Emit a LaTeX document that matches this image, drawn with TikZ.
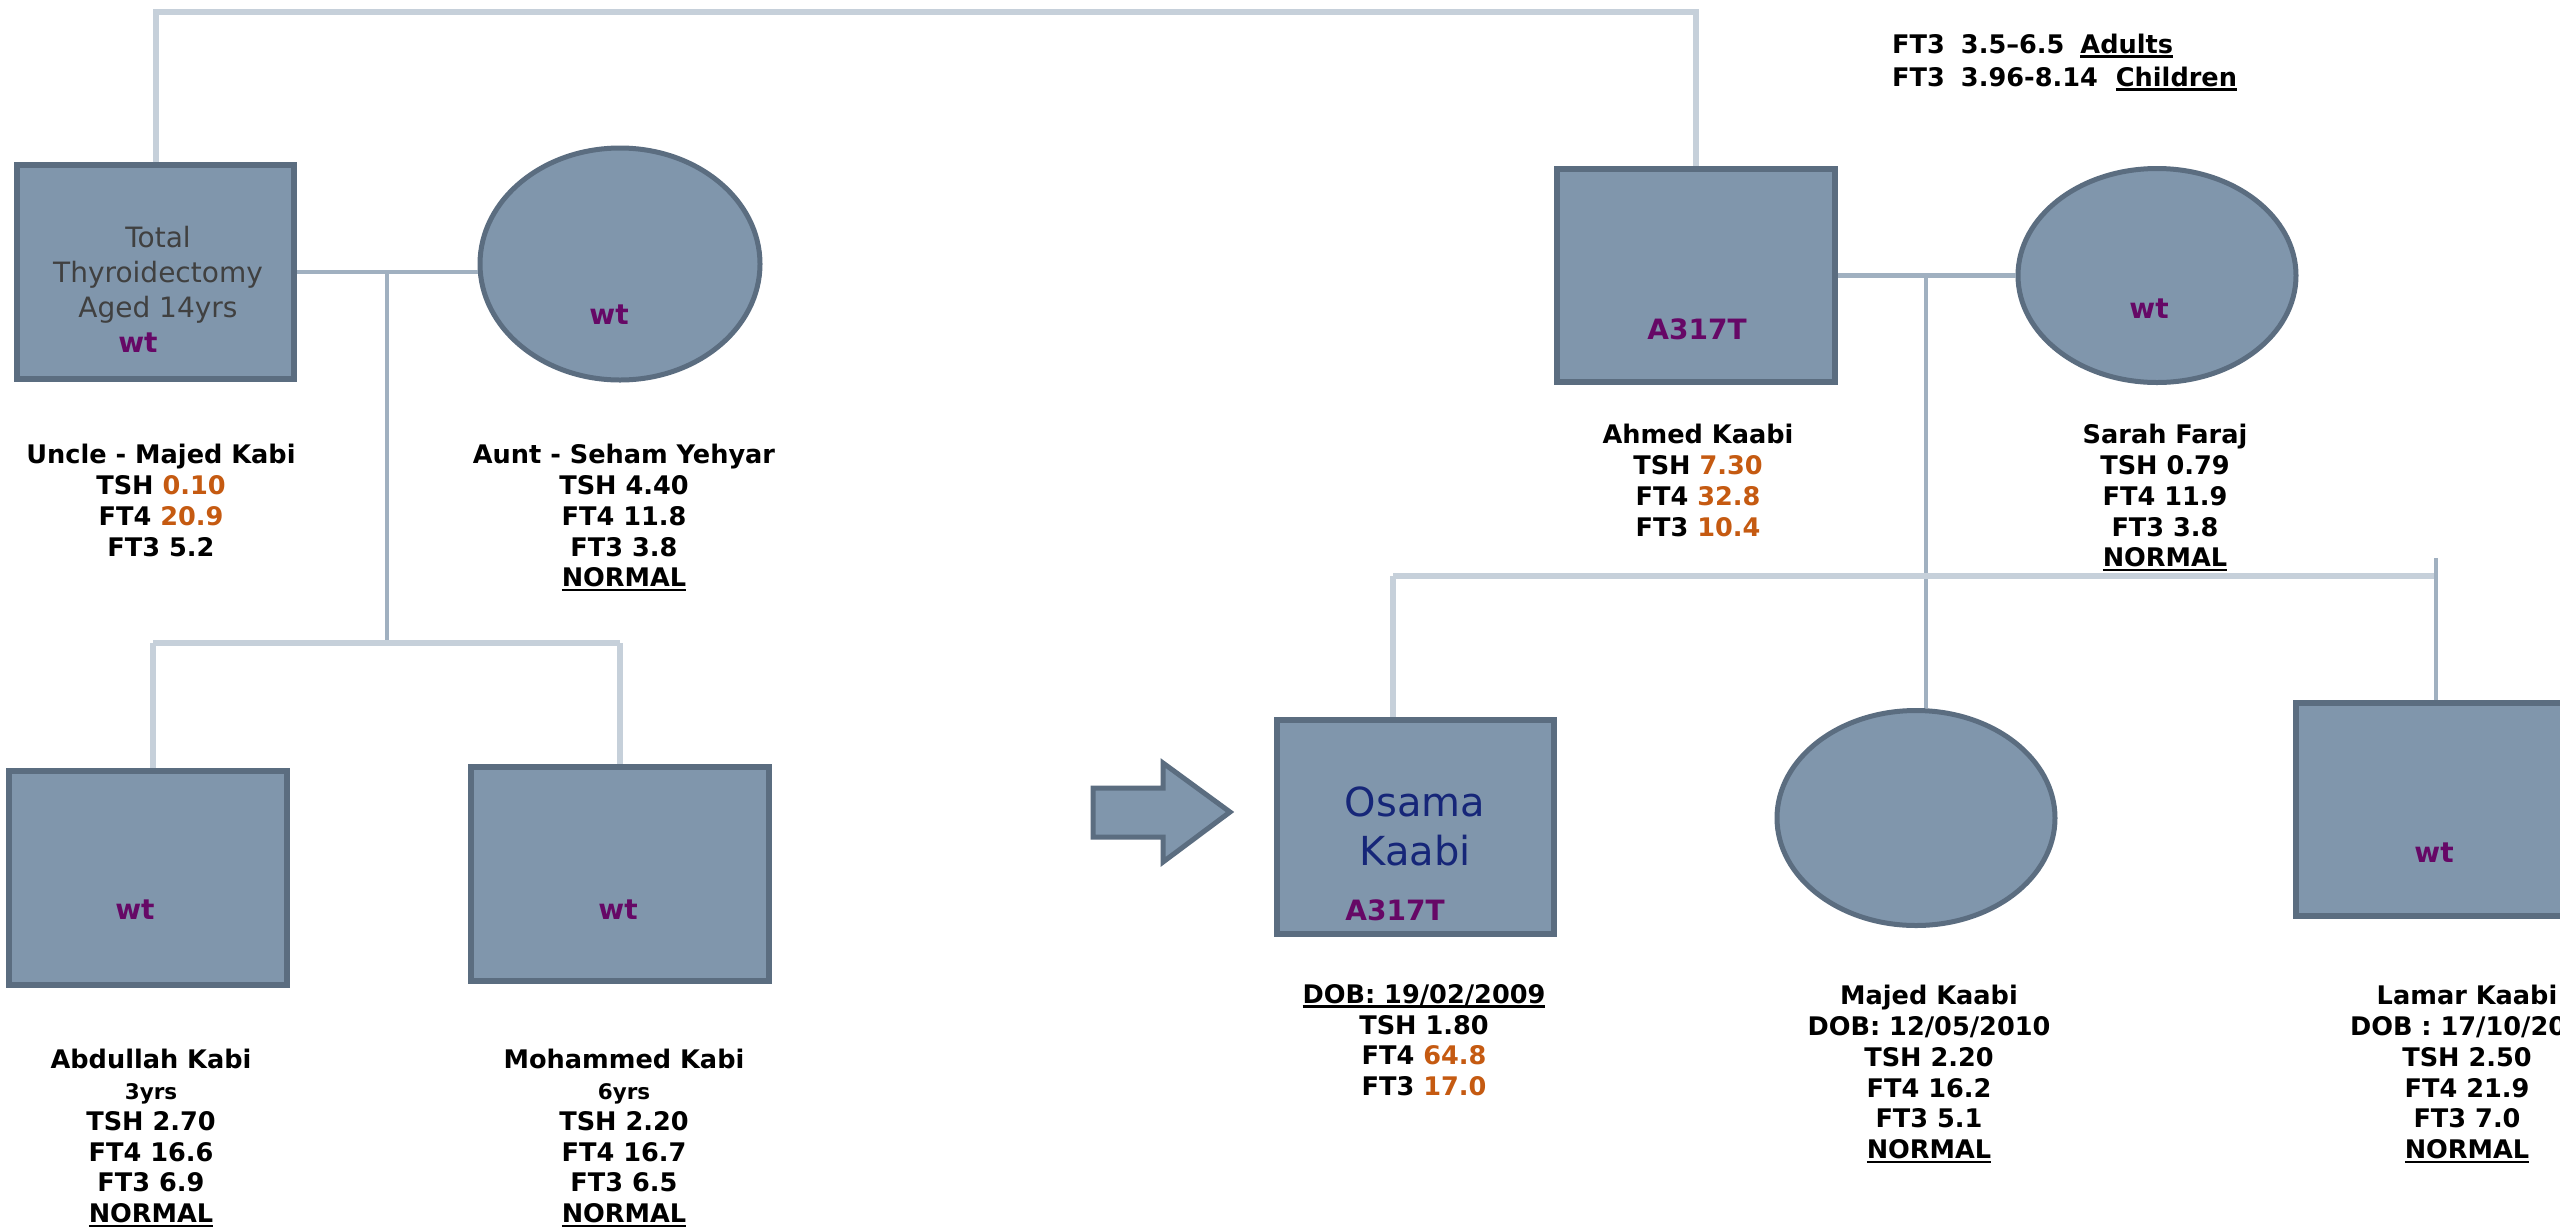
\documentclass[tikz,border=0pt]{standalone}
\usepackage{fontspec}
\setmainfont{DejaVu Sans}
\usetikzlibrary{shapes.geometric}
\definecolor{fillc}{RGB}{128,150,172}
\definecolor{bordc}{RGB}{91,109,128}
\definecolor{linec}{RGB}{160,176,192}
\definecolor{lightc}{RGB}{198,208,218}
\definecolor{mutc}{RGB}{102,8,102}
\definecolor{valc}{RGB}{197,90,17}
\definecolor{namec}{RGB}{22,38,120}
\definecolor{grayt}{RGB}{64,64,64}
\newcommand\ov[1]{\textcolor{valc}{#1}}
\newcommand\myul[1]{\setbox0\hbox{#1}\rlap{\rule[-4.5pt]{\wd0}{2.6pt}}\box0}
\begin{document}
\begin{tikzpicture}[x=1pt,y=-1pt,
  male/.style={rectangle,draw=bordc,fill=fillc,line width=6pt,inner sep=0pt},
  female/.style={ellipse,draw=bordc,fill=fillc,line width=5pt,inner sep=0pt},
  conn/.style={draw=linec,line width=4.5pt},
  sib/.style={draw=lightc,line width=6pt},
  lab/.style={font=\fontsize{25.6pt}{30.8pt}\selectfont\bfseries,align=center,inner sep=0pt,anchor=north},
  geno/.style={font=\fontsize{28pt}{34pt}\selectfont\bfseries,text=mutc,inner sep=0pt},
]
\useasboundingbox (0,0) rectangle (2560,1227);
\fill[white] (0,0) rectangle (2560,1227);
\clip (0,0) rectangle (2560,1227);

% individuals
\node[male,minimum width=277pt,minimum height=214pt] (U) at (155.5,272) {};
\node[female,minimum width=280pt,minimum height=232pt] (A) at (620,264) {};
\node[male,minimum width=278pt,minimum height=214pt] (B1) at (148,878) {};
\node[male,minimum width=298pt,minimum height=214pt] (B2) at (620,874) {};
\node[male,minimum width=278pt,minimum height=213pt] (F) at (1696,275.5) {};
\node[female,minimum width=278pt,minimum height=214pt] (M) at (2157,275.5) {};
\node[male,minimum width=277pt,minimum height=214pt] (O) at (1415.5,827) {};
\node[female,minimum width=278pt,minimum height=215pt] (J) at (1916,818) {};
\node[male,minimum width=278pt,minimum height=213pt] (L) at (2435,809.5) {};

% connectors
\coordinate (top) at (0,12);
\draw[sib] (U.north) -- (U.north |- top) -| (F.north);
\draw[conn] (U.east) -- (U.east -| A.west);
\coordinate (d1) at (387,272);
\coordinate (s1) at (387,643);
\draw[conn] (d1) -- (s1);
\coordinate (s1a) at (153,643);
\coordinate (s1b) at (620,643);
\draw[sib] (s1a) -- (s1b);
\draw[sib] (s1a) -- (s1a |- B1.north);
\draw[sib] (s1b) -- (B2.north);

\draw[conn] (F.east) -- (F.east -| M.west);
\coordinate (d2) at (1926,274);
\draw[conn] (d2) -- (d2 |- J.north);
\coordinate (s2a) at (1393,576);
\coordinate (s2b) at (2436,576);
\coordinate (s2c) at (2436,558);
\draw[sib] (s2a) -- (s2b);
\draw[sib] (s2a) -- (s2a |- O.north);
\draw[conn] (s2c) -- (s2c |- L.north);

% proband arrow
\draw[draw=bordc,fill=fillc,line width=5pt,line join=miter]
  (1093,788) -- (1163,788) -- (1163,763) -- (1230,812) -- (1163,862) -- (1163,837) -- (1093,837) -- cycle;

% texts inside symbols
\node[font=\fontsize{28pt}{35pt}\selectfont,text=grayt,align=center,inner sep=0pt,anchor=north] (Ut) at (158,226) {Total\\Thyroidectomy\\Aged 14yrs};
\node[geno] (Ug) at (138,343) {wt};
\node[geno] (Ag) at (609,315) {wt};
\node[geno] (B1g) at (135,910) {wt};
\node[geno] (B2g) at (618,910) {wt};
\node[geno] (Fg) at (1697,329) {A317T};
\node[geno] (Mg) at (2149,309) {wt};
\node[geno] (Og) at (1395,910) {A317T};
\node[geno] (Lg) at (2434,853) {wt};
\node[font=\fontsize{40pt}{49pt}\selectfont,text=namec,align=center,inner sep=0pt,anchor=north] (On) at (1415,787) {Osama\\Kaabi};

% labels
\node[lab] (Ul) at (161,444) {Uncle - Majed Kabi\\TSH \ov{0.10}\\FT4 \ov{20.9}\\FT3 5.2};
\node[lab] (Al) at (624,444) {Aunt - Seham Yehyar\\TSH 4.40\\FT4 11.8\\FT3 3.8\\\myul{NORMAL}};
\node[lab] (Fl) at (1698,424) {Ahmed Kaabi\\TSH \ov{7.30}\\FT4 \ov{32.8}\\FT3 \ov{10.4}};
\node[lab] (Ml) at (2165,424) {Sarah Faraj\\TSH 0.79\\FT4 11.9\\FT3 3.8\\\myul{NORMAL}};
\node[lab] (B1l) at (151,1049) {Abdullah Kabi\\{\fontsize{21.5pt}{30.5pt}\selectfont 3yrs}\\TSH 2.70\\FT4 16.6\\FT3 6.9\\\myul{NORMAL}};
\node[lab] (B2l) at (624,1049) {Mohammed Kabi\\{\fontsize{21.5pt}{30.5pt}\selectfont 6yrs}\\TSH 2.20\\FT4 16.7\\FT3 6.5\\\myul{NORMAL}};
\node[lab] (Ol) at (1424,984) {\myul{DOB: 19/02/2009}\\TSH 1.80\\FT4 \ov{64.8}\\FT3 \ov{17.0}};
\node[lab] (Jl) at (1929,985) {Majed Kaabi\\DOB: 12/05/2010\\TSH 2.20\\FT4 16.2\\FT3 5.1\\\myul{NORMAL}};
\node[lab] (Ll) at (2467,985) {Lamar Kaabi\\DOB : 17/10/201\\TSH 2.50\\FT4 21.9\\FT3 7.0\\\myul{NORMAL}};

% reference ranges
\node[lab,anchor=west] (lg1) at (1892,46) {FT3\hspace{16pt}3.5–6.5\hspace{16pt}\myul{Adults}};
\node[lab,anchor=west] (lg2) at (1892,79) {FT3\hspace{16pt}3.96-8.14\hspace{18pt}\myul{Children}};
\end{tikzpicture}
\end{document}
